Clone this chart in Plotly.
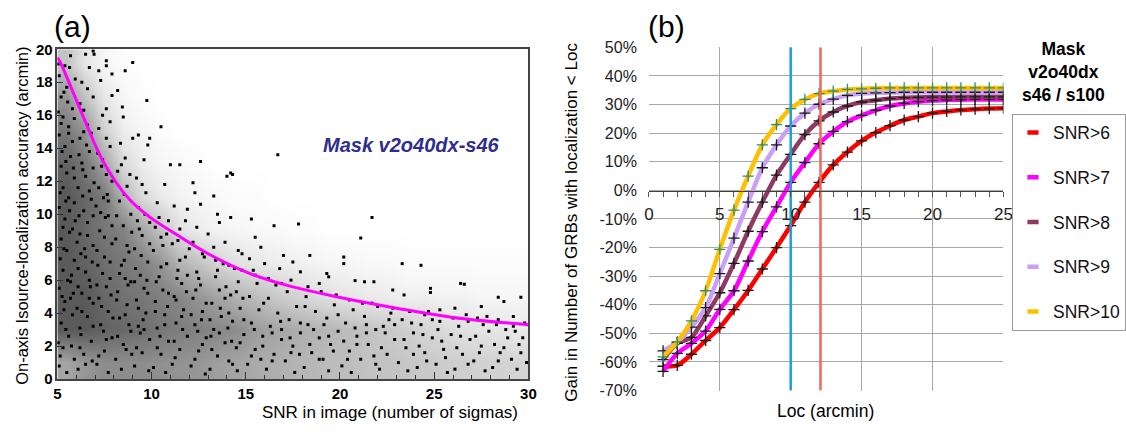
import plotly.graph_objects as go

W, H = 1126, 436

def px(x):
    return x / W
def py(y):
    return 1 - y / H

FONT = "Liberation Sans, Arial, sans-serif"

# ---------------- Panel (a) data ----------------
# density of detections (ink fraction), 1-unit SNR bins x 2-arcmin bins
density_x = [5.5, 6.5, 7.5, 8.5, 9.5, 10.5, 11.5, 12.5, 13.5, 14.5, 15.5, 16.5, 17.5,
             18.5, 19.5, 20.5, 21.5, 22.5, 23.5, 24.5, 25.5, 26.5, 27.5, 28.5, 29.5]
density_y = [1, 3, 5, 7, 9, 11, 13, 15, 17, 19]
density_z = [
    [.30, .35, .38, .38, .38, .37, .36, .35, .32, .30, .28, .27, .25, .24, .22, .22, .20, .20, .19, .18, .17, .16, .15, .15, .14],
    [.55, .55, .52, .50, .48, .45, .43, .42, .40, .38, .33, .30, .28, .26, .24, .22, .20, .18, .16, .14, .12, .10, .09, .08, .07],
    [.55, .55, .50, .47, .45, .42, .40, .35, .30, .25, .22, .18, .15, .12, .10, .08, .07, .06, .05, .05, .04, .04, .03, .03, .03],
    [.55, .52, .48, .45, .42, .35, .25, .20, .14, .10, .08, .06, .05, .04, .03, .03, .02, .02, .01, .01, .01, .01, .01, .01, .01],
    [.55, .50, .45, .42, .30, .20, .10, .06, .04, .03, .02, .02, .01, .01, 0, 0, 0, 0, 0, 0, 0, 0, 0, 0, 0],
    [.55, .50, .45, .25, .12, .07, .04, .03, .02, .01, .01, 0, 0, 0, 0, 0, 0, 0, 0, 0, 0, 0, 0, 0, 0],
    [.52, .45, .30, .12, .06, .03, .02, .01, 0, 0, 0, 0, 0, 0, 0, 0, 0, 0, 0, 0, 0, 0, 0, 0, 0],
    [.45, .35, .15, .06, .03, .01, 0, 0, 0, 0, 0, 0, 0, 0, 0, 0, 0, 0, 0, 0, 0, 0, 0, 0, 0],
    [.35, .20, .08, .03, .01, 0, 0, 0, 0, 0, 0, 0, 0, 0, 0, 0, 0, 0, 0, 0, 0, 0, 0, 0, 0],
    [.20, .08, .03, .01, 0, 0, 0, 0, 0, 0, 0, 0, 0, 0, 0, 0, 0, 0, 0, 0, 0, 0, 0, 0, 0],
]

# individual detections (SNR, accuracy arcmin)
detections_5_7 = [
    (5.1, 0.8), (5.3, 1.9), (5.6, 2.6), (5.2, 3.4), (5.8, 3.9), (5.4, 4.7), (5.1, 5.5), (5.7, 5.9), (5.3, 6.6),
    (5.9, 7.2), (5.5, 7.8), (5.2, 8.5), (5.8, 9.1), (5.4, 9.7), (5.1, 10.4), (5.6, 11.0), (5.3, 11.6), (5.9, 12.2),
    (5.2, 12.9), (5.7, 13.5), (5.4, 14.1), (5.1, 14.8), (5.6, 15.3), (5.3, 15.9), (5.8, 16.4), (5.2, 17.1), (5.5, 17.7),
    (5.1, 18.4), (5.4, 19.0), (5.7, 19.6), (5.9, 1.2), (5.5, 0.4), (5.05, 2.2), (5.35, 4.2), (5.75, 6.3), (5.15, 7.3),
    (5.65, 8.9), (5.45, 10.8), (5.85, 12.8), (5.25, 13.8), (5.55, 16.8), (5.95, 18.2), (5.05, 16.2), (5.7, 4.9), (5.3, 9.2),
    (5.15, 1.4), (5.45, 3.0), (5.75, 2.0), (5.25, 5.0), (5.55, 6.0), (5.85, 5.2), (5.35, 7.9), (5.65, 10.2), (5.95, 9.6),
    (5.15, 11.3), (5.5, 12.5), (5.8, 14.4), (5.2, 15.5), (5.6, 14.9), (5.9, 15.8), (5.35, 17.4), (5.05, 19.1), (5.65, 18.9),
    (5.45, 13.2), (5.9, 10.7),
    (6.1, 0.6), (6.4, 1.5), (6.8, 2.3), (6.2, 3.1), (6.6, 3.8), (6.9, 4.6), (6.3, 5.2), (6.7, 6.0), (6.1, 6.7),
    (6.5, 7.4), (6.9, 8.1), (6.2, 8.8), (6.6, 9.5), (6.4, 10.2), (6.8, 10.9), (6.1, 11.6), (6.5, 12.3), (6.3, 13.1),
    (6.7, 13.8), (6.2, 14.6), (6.6, 15.4), (6.4, 16.3), (6.9, 17.1), (6.3, 18.0), (6.7, 18.9), (6.5, 19.7), (6.85, 1.1),
    (6.25, 2.7), (6.75, 5.6), (6.45, 7.9), (6.15, 9.9), (6.95, 11.9), (6.55, 14.2), (6.05, 4.3), (6.35, 12.7),
    (6.2, 1.9), (6.5, 0.9), (6.9, 3.2), (6.3, 4.1), (6.7, 4.9), (6.1, 5.6), (6.5, 6.5), (6.85, 7.1), (6.25, 7.6),
    (6.6, 8.7), (6.05, 8.3), (6.9, 9.9), (6.35, 11.1), (6.7, 11.4), (6.15, 13.6), (6.8, 14.9), (6.4, 15.0), (6.6, 17.6),
    (6.2, 16.7), (6.9, 12.8),
]
detections_7_10 = [
    (7.1, 0.9), (7.5, 1.7), (7.9, 2.5), (7.3, 3.3), (7.7, 4.1), (7.2, 4.9), (7.6, 5.6), (7.4, 6.4), (7.8, 7.1),
    (7.1, 7.8), (7.5, 8.6), (7.9, 9.3), (7.3, 10.1), (7.7, 10.8), (7.2, 11.6), (7.6, 12.4), (7.4, 13.3), (7.8, 14.1),
    (7.2, 15.2), (7.6, 16.4), (7.9, 17.2), (7.3, 18.1), (7.7, 0.4), (7.45, 2.9), (7.85, 5.1), (7.15, 6.9), (7.55, 9.8),
    (7.35, 12.9), (7.95, 3.7), (7.65, 11.2),
    (7.2, 1.4), (7.6, 2.4), (7.35, 4.4), (7.8, 6.1), (7.1, 5.7), (7.5, 7.4), (7.9, 8.2), (7.25, 9.0), (7.7, 9.9),
    (7.45, 11.0), (7.9, 12.0), (7.15, 13.7), (7.6, 14.6), (7.4, 16.0), (7.8, 15.6), (7.05, 10.5),
    (8.1, 1.2), (8.5, 2.1), (8.9, 2.9), (8.3, 3.7), (8.7, 4.5), (8.2, 5.3), (8.6, 6.1), (8.4, 6.9), (8.8, 7.7),
    (8.1, 8.5), (8.5, 9.3), (8.9, 10.0), (8.3, 10.8), (8.7, 11.7), (8.2, 12.6), (8.6, 13.4), (8.4, 0.6), (8.8, 3.3),
    (8.15, 4.8), (8.55, 7.2), (8.95, 8.9), (8.35, 14.3), (8.75, 5.7), (8.45, 16.5), (8.65, 1.8),
    (8.2, 2.6), (8.6, 3.9), (8.9, 5.9), (8.3, 6.4), (8.7, 8.1), (8.15, 9.9), (8.55, 11.2), (8.85, 12.4), (8.4, 13.0),
    (8.95, 1.5),
    (9.1, 0.8), (9.5, 1.6), (9.9, 2.4), (9.3, 3.2), (9.7, 4.0), (9.2, 4.8), (9.6, 5.5), (9.4, 6.3), (9.8, 7.1),
    (9.1, 7.9), (9.5, 8.7), (9.9, 9.5), (9.3, 10.4), (9.7, 11.3), (9.2, 12.2), (9.6, 13.3), (9.4, 2.8), (9.8, 5.2),
    (9.15, 6.7), (9.55, 3.6), (9.85, 0.5), (9.35, 9.1),
    (9.2, 1.9), (9.6, 3.0), (9.3, 4.3), (9.75, 6.0), (9.45, 7.5), (9.9, 8.2), (9.25, 9.6), (9.65, 10.0), (9.5, 11.8),
    (9.1, 5.9),
]
detections_10_15 = [
    (10.1, 0.7), (10.5, 1.5), (10.9, 2.3), (10.3, 3.1), (10.7, 3.9), (10.2, 4.7), (10.6, 5.4), (10.4, 6.2), (10.8, 7.0),
    (10.1, 7.8), (10.5, 8.6), (10.9, 9.6), (10.3, 10.7), (10.7, 11.8), (11.1, 0.9), (11.5, 1.8), (11.9, 2.6), (11.3, 3.4),
    (11.7, 4.2), (11.2, 5.0), (11.6, 5.8), (11.4, 6.6), (11.8, 7.4), (11.1, 8.2), (11.5, 9.1), (11.9, 10.3), (10.45, 2.6),
    (10.85, 4.4), (11.25, 1.3), (11.65, 3.0), (10.25, 5.9), (11.35, 6.1), (10.75, 0.4), (11.85, 5.3), (10.6, 8.1),
    (10.3, 1.9), (10.7, 3.3), (10.2, 4.1), (10.9, 5.2), (10.5, 6.8), (11.2, 2.3), (11.6, 3.8), (11.3, 4.8), (11.9, 6.3),
    (11.5, 7.2),
    (12.1, 0.8), (12.5, 1.7), (12.9, 2.5), (12.3, 3.3), (12.7, 4.1), (12.2, 4.9), (12.6, 5.7), (12.4, 6.5), (12.8, 7.4),
    (12.2, 8.3), (13.1, 0.6), (13.5, 1.4), (13.9, 2.2), (13.3, 3.0), (13.7, 3.8), (13.2, 4.6), (13.6, 5.4), (13.4, 6.2),
    (13.8, 7.0), (13.3, 8.0), (14.1, 1.1), (14.5, 1.9), (14.9, 2.7), (14.3, 3.5), (14.7, 4.3), (14.2, 5.1), (14.6, 5.9),
    (14.4, 6.7), (14.8, 7.6), (12.45, 2.9), (12.85, 0.3), (13.15, 2.6), (13.65, 4.3), (14.05, 3.1), (14.55, 0.5),
    (14.85, 4.9), (12.35, 5.4), (13.95, 5.6), (12.65, 3.6), (14.25, 2.3),
    (12.3, 1.2), (12.7, 2.1), (12.1, 3.9), (12.9, 4.6), (12.5, 6.1), (13.2, 1.8), (13.6, 2.8), (13.1, 3.6), (13.9, 4.9),
    (13.5, 6.6), (14.3, 0.9), (14.7, 2.2), (14.1, 4.0), (14.9, 3.6), (14.5, 5.3),
]
detections_15_30 = [
    (15.1, 0.9), (15.5, 1.8), (15.9, 2.6), (15.3, 3.4), (15.7, 4.2), (15.2, 5.0), (15.6, 5.8), (15.4, 6.6), (16.1, 0.6),
    (16.5, 1.5), (16.9, 2.4), (16.3, 3.2), (16.7, 4.0), (16.2, 4.9), (16.6, 5.7), (17.1, 1.1), (17.5, 2.0), (17.9, 2.8),
    (17.3, 3.6), (17.7, 4.4), (17.2, 5.3), (18.1, 0.7), (18.5, 1.6), (18.9, 2.5), (18.3, 3.3), (18.7, 4.1), (18.2, 5.0),
    (19.1, 1.2), (19.5, 2.1), (19.9, 2.9), (19.3, 3.7), (19.7, 4.5), (15.8, 1.2), (16.4, 2.8), (17.6, 0.4), (18.6, 3.0),
    (19.4, 0.5), (15.45, 3.0), (16.85, 3.5), (17.85, 1.5), (18.15, 4.4), (19.65, 1.7), (15.95, 4.6), (17.35, 2.5), (19.15, 3.3),
    (20.1, 0.8), (20.5, 1.7), (20.9, 2.6), (20.3, 3.4), (20.7, 4.2), (21.1, 1.2), (21.5, 2.1), (21.9, 3.0), (21.3, 3.8),
    (21.7, 4.6), (22.1, 0.6), (22.5, 1.5), (22.9, 2.4), (22.3, 3.2), (22.7, 4.0), (23.1, 1.0), (23.5, 1.9), (23.9, 2.8),
    (23.3, 3.6), (24.1, 0.7), (24.5, 1.6), (24.9, 2.5), (24.3, 3.3), (24.7, 4.1), (20.6, 0.4), (21.4, 2.8), (22.2, 1.9),
    (23.6, 0.5), (24.2, 2.0), (20.2, 2.3), (21.8, 1.4), (22.6, 3.6), (23.8, 3.4), (24.6, 1.1), (20.8, 3.1),
    (25.1, 0.9), (25.5, 1.8), (25.9, 2.7), (25.3, 3.5), (26.1, 0.6), (26.5, 1.5), (26.9, 2.4), (26.3, 3.2), (27.1, 1.1),
    (27.5, 2.0), (27.9, 2.9), (27.3, 3.7), (28.1, 0.7), (28.5, 1.6), (28.9, 2.5), (28.3, 3.3), (29.1, 1.2), (29.5, 2.1),
    (29.9, 1.0), (29.3, 2.9), (25.7, 0.4), (26.7, 3.9), (27.7, 0.5), (28.7, 1.9), (29.7, 2.5), (25.4, 2.3), (26.2, 1.9),
    (27.2, 2.6), (28.4, 1.1), (29.4, 0.6),
    (15.3, 1.4), (15.9, 2.0), (16.4, 1.1), (16.9, 3.0), (17.4, 1.6), (17.9, 3.4), (18.4, 2.1), (18.9, 1.2), (19.4, 2.6),
    (19.9, 3.9), (20.4, 1.2), (20.9, 2.1), (21.4, 3.3), (21.9, 0.9), (22.4, 2.8), (22.9, 3.3), (23.4, 2.4), (23.9, 1.5),
    (24.4, 2.7), (24.9, 3.6), (25.6, 1.3), (26.4, 2.6), (27.4, 1.6), (28.2, 2.1), (29.6, 1.6), (26.8, 0.9), (27.8, 3.8),
    (28.8, 3.0), (29.8, 3.4), (25.2, 3.0),
]
detections_near_curve = [
    (10.2, 9.2), (10.8, 8.8), (11.4, 8.4), (12.0, 7.9), (12.7, 7.6), (13.4, 7.2), (14.1, 6.9), (14.8, 6.6), (15.5, 6.3),
    (16.2, 6.1), (16.9, 5.8), (10.4, 9.8), (11.2, 10.5), (11.8, 9.6), (12.4, 9.2), (13.0, 8.8), (13.9, 8.3), (14.6, 7.8),
    (15.2, 7.3), (16.0, 7.0), (16.8, 6.7), (17.4, 6.0), (18.3, 5.6), (19.0, 5.3), (19.8, 5.1), (20.5, 4.8), (21.2, 4.6),
    (22.0, 4.4), (22.8, 4.3), (23.7, 4.1), (24.5, 3.9), (25.3, 4.2), (26.0, 3.7), (26.8, 3.5), (27.6, 3.3), (28.4, 3.6),
    (29.2, 3.2),
]
detections_outliers = [
    (9.0, 19.2), (8.6, 18.7), (9.75, 16.9), (10.5, 15.3), (16.7, 13.6), (12.6, 13.2), (11.5, 13.0), (14.0, 12.3),
    (14.2, 12.5), (14.3, 12.4), (13.3, 11.1), (12.2, 11.9), (11.0, 13.0), (15.3, 9.7), (16.5, 9.3), (14.2, 9.8),
    (9.8, 14.2), (9.3, 14.8), (9.9, 14.6), (8.2, 17.5), (7.9, 18.5), (7.6, 19.3), (7.6, 19.0), (6.9, 19.9), (6.95, 19.7),
    (7.2, 18.7), (8.5, 15.9), (9.0, 14.6), (12.3, 11.3), (12.6, 10.6), (13.5, 10.0), (13.6, 9.5), (15.5, 8.6), (17.0, 7.5),
    (15.8, 8.0), (21.7, 9.8), (21.1, 8.55), (17.8, 9.4), (20.2, 7.4), (20.2, 7.0), (18.4, 7.5), (23.3, 7.0), (24.3, 6.9),
    (26.4, 5.8), (26.6, 5.75), (24.8, 5.5), (28.4, 4.96), (29.6, 4.96), (28.7, 4.7), (20.8, 5.97), (21.3, 5.9),
    (21.8, 5.9), (19.3, 6.4), (19.4, 6.2), (22.8, 5.4), (23.4, 5.1), (24.8, 5.25), (26.1, 4.3), (27.5, 4.4), (29.2, 3.8),
    (17.5, 7.1), (17.9, 6.5), (18.9, 5.8),
]

# magenta reference curve (SNR, accuracy)
curve_snr = [5.0, 5.16, 6.38, 7.43, 8.82, 9.87, 11.3, 13.0, 15.1, 17.2, 20.2, 23.0, 26.0, 30.0]
curve_acc = [19.5, 19.2, 15.9, 13.2, 10.9, 9.85, 8.78, 7.6, 6.45, 5.68, 4.9, 4.3, 3.74, 3.3]

# ---------------- Panel (b) data ----------------
loc_arcmin = [1, 2, 3, 4, 5, 6, 7, 8, 9, 10, 11, 12, 13, 14, 15, 16, 17, 18, 19, 20, 21, 22, 23, 24, 25]
gain_snr6 = [-61.5, -61.2, -57.3, -52.5, -48.0, -41.7, -35.0, -27.5, -20.0, -12.3, -4.1, 2.8, 8.9, 13.4, 17.3,
             20.2, 22.6, 24.6, 25.8, 27.0, 27.6, 28.1, 28.4, 28.6, 28.7]
gain_snr7 = [-63.3, -57.0, -53.5, -49.2, -41.6, -35.1, -24.7, -14.4, -5.8, 2.8, 9.7, 16.3, 20.6, 24.0, 26.2,
             28.0, 29.5, 30.4, 31.0, 31.4, 31.6, 31.7, 31.8, 31.8, 31.8]
gain_snr8 = [-59.2, -53.5, -51.4, -43.9, -35.8, -25.5, -14.3, -4.1, 5.3, 12.6, 19.5, 24.3, 27.4, 29.5, 30.9,
             31.5, 32.1, 32.4, 32.5, 32.6, 32.6, 32.7, 32.7, 32.7, 32.7]
gain_snr9 = [-56.1, -53.1, -47.8, -41.0, -29.1, -16.7, -4.1, 7.9, 15.9, 22.5, 27.0, 30.1, 31.9, 33.2, 33.9,
             34.1, 34.2, 34.3, 34.3, 34.3, 34.3, 34.3, 34.3, 34.3, 34.3]
gain_snr10 = [-58.2, -53.0, -45.6, -35.1, -20.6, -6.9, 5.0, 15.9, 23.0, 28.6, 31.8, 33.8, 34.7, 35.3, 35.5,
              35.7, 35.8, 35.8, 35.8, 35.8, 35.8, 35.8, 35.8, 35.8, 35.8]
series_names = ["SNR>6", "SNR>7", "SNR>8", "SNR>9", "SNR>10"]
series_values = [gain_snr6, gain_snr7, gain_snr8, gain_snr9, gain_snr10]
series_colors = ["#FF0000", "#FF00FF", "#8E3A63", "#C9A0F7", "#FFC000"]
marker_colors = ["#1a1a1a", "#1a1a1a", "#1a1a1a", "#1a1a1a", "#2E8C7A"]
loc_thresholds = [10.0, 12.1]
threshold_colors = ["#1E9ED8", "#F2665E"]
gain_ticks = [-70, -60, -50, -40, -30, -20, -10, 0, 10, 20, 30, 40, 50]
loc_ticks = [0, 5, 10, 15, 20, 25]

fig = go.Figure()

# ---- panel (a)
fig.add_trace(go.Heatmap(
    x=density_x, y=density_y, z=density_z, zmin=0, zmax=0.85, zsmooth="best",
    colorscale=[[0, "#ffffff"], [1, "#000000"]], showscale=False, hoverinfo="skip",
    xaxis="x", yaxis="y"))

all_det = (detections_5_7 + detections_7_10 + detections_10_15 + detections_15_30
           + detections_near_curve + detections_outliers)
fig.add_trace(go.Scatter(
    x=[p[0] for p in all_det], y=[p[1] for p in all_det], mode="markers",
    marker=dict(size=3, color="black", symbol="square", line=dict(width=0)),
    showlegend=False, xaxis="x", yaxis="y"))

fig.add_trace(go.Scatter(
    x=curve_snr, y=curve_acc, mode="lines", line=dict(color="#FF00FF", width=3, shape="spline", smoothing=1.0),
    showlegend=False, xaxis="x", yaxis="y"))

# ---- panel (b)
for name, vals, col, mcol in zip(series_names, series_values, series_colors, marker_colors):
    fig.add_trace(go.Scatter(
        x=loc_arcmin, y=vals, mode="lines+markers", name=name,
        line=dict(color=col, width=4.5, shape="spline", smoothing=0.8),
        marker=dict(symbol="cross-thin", size=8, line=dict(color=mcol, width=1.3)),
        showlegend=False, xaxis="x2", yaxis="y2"))

for t, c in zip(loc_thresholds, threshold_colors):
    fig.add_trace(go.Scatter(
        x=[t, t], y=[gain_ticks[0], gain_ticks[-1]], mode="lines",
        line=dict(color=c, width=2.5), showlegend=False, hoverinfo="skip",
        xaxis="x2", yaxis="y2"))

# legend entries (short colored dashes)
for name, col in zip(series_names, series_colors):
    fig.add_trace(go.Scatter(
        x=[None], y=[None], mode="markers", name=name, legendgroup=name,
        marker=dict(symbol="line-ew", size=8, line=dict(color=col, width=4.5)),
        showlegend=True, xaxis="x2", yaxis="y2"))

tickfont_a = dict(family=FONT, size=15, color="black", weight="bold")
fig.update_layout(
    width=W, height=H, autosize=False,
    margin=dict(l=0, r=0, t=0, b=0),
    paper_bgcolor="white", plot_bgcolor="white",
    font=dict(family=FONT, color="black"),
    xaxis=dict(domain=[px(53), px(530)], range=[5, 30], anchor="y",
               tickvals=[5, 10, 15, 20, 25, 30], ticks="inside", ticklen=7, tickcolor="#333",
               minor=dict(dtick=1, ticks="inside", ticklen=4, tickcolor="#333", showgrid=False),
               showgrid=False, zeroline=False, showline=True, linecolor="#444", linewidth=1.5,
               mirror=True, tickfont=tickfont_a),
    yaxis=dict(domain=[py(386), py(42)], range=[0, 20], anchor="x",
               tickvals=[0, 2, 4, 6, 8, 10, 12, 14, 16, 18, 20], ticks="inside", ticklen=6, tickcolor="#333",
               showgrid=False, zeroline=False, showline=True, linecolor="#444", linewidth=1.5,
               mirror=True, tickfont=tickfont_a),
    xaxis2=dict(domain=[px(652), px(1011)], range=[0, 25], anchor="free", position=py(190),
                tickvals=loc_ticks, ticks="outside", ticklen=5, tickcolor="#555",
                minor=dict(dtick=1, ticks="outside", ticklen=5, tickcolor="#555", showgrid=False),
                showgrid=True, gridcolor="#A8A8A8", gridwidth=1, zeroline=False,
                showline=True, linecolor="#404040", linewidth=1.3,
                tickfont=dict(family=FONT, size=17, color="#222"), ticklabelstandoff=2),
    yaxis2=dict(domain=[py(398), py(40)], range=[-70, 50], anchor="x2",
                tickvals=gain_ticks, ticktext=[f"{v}%" for v in gain_ticks],
                showgrid=True, gridcolor="#A8A8A8", gridwidth=1, zeroline=False, showline=False,
                ticks="", tickfont=dict(family=FONT, size=16, color="#222"), ticklabelstandoff=11),
    legend=dict(x=px(1020), y=py(109), xanchor="left", yanchor="top",
                bordercolor="#9a9a9a", borderwidth=1, bgcolor="white",
                font=dict(family=FONT, size=17.5, color="#111"),
                tracegroupgap=19, itemwidth=30),
    showlegend=True,
)

ann = [
    dict(text="(a)", x=px(68), y=py(18), font=dict(size=30)),
    dict(text="(b)", x=px(670), y=py(18), font=dict(size=30)),
    dict(text="On-axis Isource-localization accuracy (arcmin)", x=px(17), y=py(216),
         textangle=-90, font=dict(size=16.5)),
    dict(text="SNR in image (number of sigmas)", x=px(521), y=py(421), xanchor="right",
         font=dict(size=17)),
    dict(text="<b><i>Mask v2o40dx-s46</i></b>", x=px(412), y=py(142), font=dict(size=20, color="#2E2E8F")),
    dict(text="Gain in Number of GRBs with localization < Loc", x=px(574), y=py(222),
         textangle=-90, font=dict(size=17)),
    dict(text="Loc (arcmin)", x=px(831), y=py(419), font=dict(size=17.5)),
    dict(text="<b>Mask</b><br><b>v2o40dx</b><br><b>s46 / s100</b>", x=px(1072), y=py(66),
         font=dict(size=17.5)),
]
for a in ann:
    a.setdefault("xref", "paper")
    a.setdefault("yref", "paper")
    a.setdefault("showarrow", False)
    a.setdefault("xanchor", "center")
    a.setdefault("yanchor", "middle")
    a["font"].setdefault("family", FONT)
    a["font"].setdefault("color", "black")
fig.update_layout(annotations=ann)

# remove the default page margin so the figure fills the 1126x436 window exactly
fig.write_html(
    "out.html",
    config={"displayModeBar": False},
    post_script="document.body.style.margin='0';document.body.style.overflow='hidden';",
)
